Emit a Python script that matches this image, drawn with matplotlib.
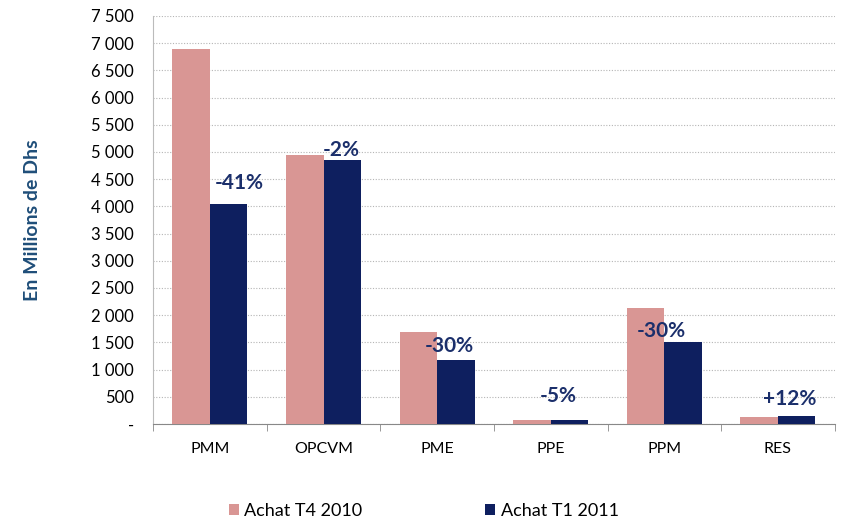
import numpy as np
import matplotlib
matplotlib.use("Agg")
from matplotlib import pyplot as plt
from matplotlib.ticker import FuncFormatter, MultipleLocator

categories = ["PMM", "OPCVM", "PME", "PPE", "PPM", "RES"]
achat_t4_2010 = [6900, 4950, 1700, 70, 2130, 130]
achat_t1_2011 = [4050, 4850, 1170, 66, 1500, 145]
variations = ["-41%", "-2%", "-30%", "-5%", "-30%", "+12%"]

# decalage des etiquettes (pixels) par rapport au haut de la barre bleue
decalages = [(11, 21), (-1, 10), (-7, 14), (-11, 24), (-22, 11), (-7, 17)]

rose = "#D99694"
marine = "#0E1F5F"
plt.rcParams["font.family"] = ["Lato", "DejaVu Sans"]

fig = plt.figure(figsize=(8.65, 5.31), dpi=100)
ax = fig.add_axes([0.177, 0.2015, 0.788, 0.7685])

x = np.arange(len(categories))
w = 0.33
ax.bar(x - w / 2, achat_t4_2010, w, color=rose, label="Achat T4 2010", zorder=3)
b2 = ax.bar(x + w / 2, achat_t1_2011, w, color=marine, label="Achat T1 2011", zorder=3)

for rect, txt, (dx, dy) in zip(b2, variations, decalages):
    ax.annotate(txt, (rect.get_x() + rect.get_width() / 2, rect.get_height()),
                xytext=(dx, dy), textcoords="offset pixels", ha="center", va="center",
                fontsize=15, color="#1B2F6B", fontweight="bold", zorder=4)

ax.set_xlim(-0.5, len(categories) - 0.5)
ax.set_ylim(0, 7500)
ax.yaxis.set_major_locator(MultipleLocator(500))
ax.yaxis.set_major_formatter(FuncFormatter(
    lambda v, p: "-" if v == 0 else f"{int(v):,}".replace(",", " ")))
ax.grid(axis="y", linestyle=(0, (1, 1.5)), color="#B5B5B5", linewidth=0.8, zorder=0)

ax.set_xticks(x)
ax.set_xticklabels(categories)
ax.set_xticks(np.arange(-0.5, len(categories)), minor=True)
ax.tick_params(axis="x", which="major", length=0, pad=13, labelsize=11.5)
ax.tick_params(axis="x", which="minor", length=5, color="#888888", direction="out")
ax.tick_params(axis="y", length=0, pad=14, labelsize=12)

for s in ["top", "right"]:
    ax.spines[s].set_visible(False)
ax.spines["left"].set_color("#BBBBBB")
ax.spines["bottom"].set_color("#888888")

fig.text(0.037, 0.585, "En Millions de Dhs", rotation=90, ha="center", va="center",
         fontsize=14, fontweight="bold", color="#1F4E79")

fig.legend(loc="lower center", bbox_to_anchor=(0.49, -0.008), ncol=2, frameon=False,
           fontsize=13, handlelength=0.55, handleheight=0.55, handletextpad=0.3,
           columnspacing=6.8)

fig.savefig("out.png", dpi=100)
